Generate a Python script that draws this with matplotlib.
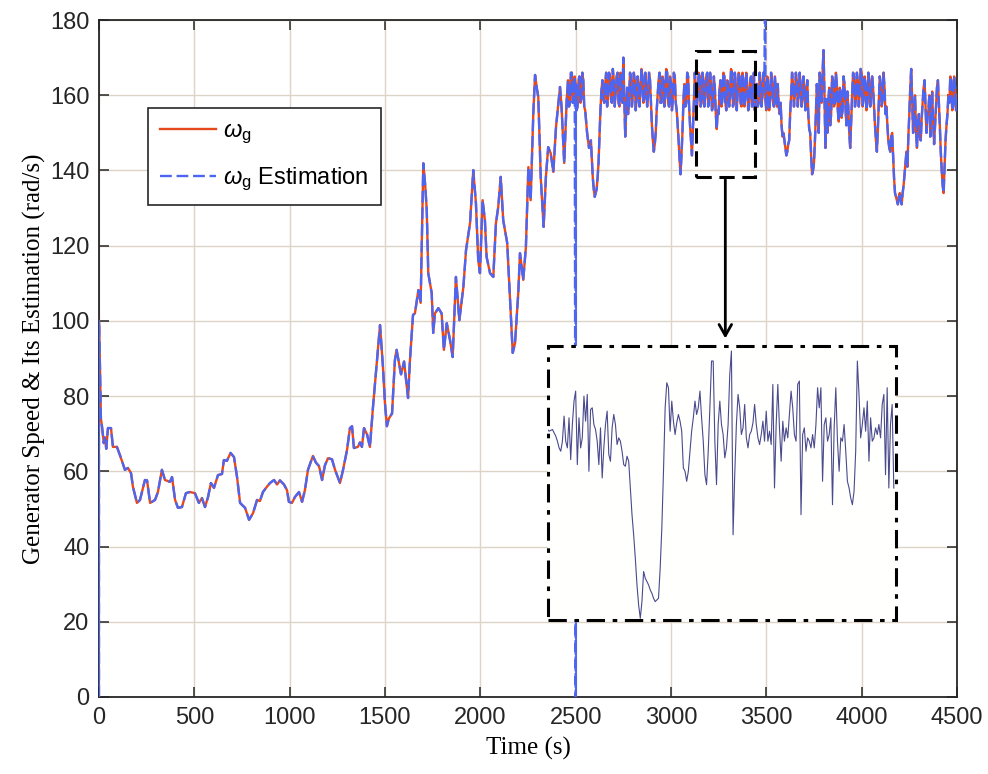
import numpy as np
import matplotlib.pyplot as plt
from matplotlib.patches import Rectangle
from matplotlib.lines import Line2D

plt.rcParams['mathtext.fontset'] = 'custom'
plt.rcParams['mathtext.rm'] = 'Liberation Sans'
plt.rcParams['mathtext.it'] = 'Liberation Sans:italic'

# generator speed, slow part (start-up and ramp), irregular sample times
t_low = [0, 5, 10, 16, 25, 31, 38, 47, 63, 73, 94, 110, 136, 152, 168, 178, 199, 215,
         241, 252, 268, 294, 309, 330, 346, 372, 383, 399, 414, 435, 456, 477, 503, 524,
         540, 556, 572, 587, 603, 624, 645, 655, 671, 690, 708, 724, 740, 766, 787, 808,
         829, 844, 860, 876, 897, 918, 934, 949, 970, 986, 996, 1012, 1028, 1049, 1065,
         1080, 1096, 1122, 1138, 1154, 1170, 1185, 1201, 1222, 1238, 1264, 1280, 1301,
         1316, 1327, 1337, 1358, 1369, 1379, 1390, 1406, 1421, 1437, 1458, 1474, 1489,
         1500, 1510, 1520, 1537, 1552, 1561, 1584, 1600, 1621, 1631, 1647, 1657, 1675,
         1687, 1701, 1711, 1719, 1727, 1745, 1753, 1762, 1780, 1797, 1809, 1824, 1841,
         1855, 1872, 1890, 1911, 1925, 1946, 1963, 1977, 1989, 1998, 2012, 2024, 2033,
         2051, 2068, 2082, 2094, 2107, 2120, 2141, 2156, 2170, 2182, 2199, 2208, 2225,
         2239, 2252, 2264, 2278, 2287, 2296, 2304, 2317, 2332, 2344, 2356, 2369, 2383,
         2397, 2418, 2426, 2440, 2453]
w_low = [100, 88, 74, 71.8, 67.5, 69, 66, 71.5, 71.5, 66.5, 66.5, 64.3, 60.4, 60.9, 59.5,
         55.9, 51.6, 52.4, 57.7, 57.6, 51.6, 52.4, 54.5, 60.4, 57.7, 57.2, 58.5, 52.4, 50.3,
         50.5, 54.2, 54.5, 54.2, 51.6, 52.9, 50.5, 53.2, 56.9, 55.6, 59.0, 59.3, 63.0, 62.8,
         64.9, 63.8, 58.5, 51.6, 50.3, 47.1, 48.9, 52.4, 52.1, 54.5, 55.6, 56.9, 57.7, 56.5,
         57.6, 56.5, 55.0, 51.9, 51.6, 53.2, 54.5, 51.9, 55.0, 60.4, 64.1, 62.3, 61.4, 57.7,
         61.6, 63.5, 63.2, 60.4, 56.9, 60.4, 65.7, 71.5, 72.0, 66.2, 66.5, 67.7, 66.5, 71.5,
         69.8, 66.5, 77.1, 89.6, 98.9, 88.0, 78, 72, 74, 75.4, 89.6, 92.3, 85.8, 89.2, 79.5,
         89.6, 101.6, 102, 108.2, 104.8, 141.9, 136, 129.5, 112.7, 107.4, 96.8, 102, 103.4,
         102, 92.3, 99.4, 94.9, 90.4, 111.7, 100.2, 109, 118.8, 126, 140.1, 131.3, 116.2,
         112.7, 132.1, 126.8, 117, 112.7, 111.7, 126, 130.3, 138.3, 126.8, 120.7, 105.6,
         91.5, 94.1, 107.4, 118, 110.9, 119.6, 140.9, 132.1, 155.3, 165.4, 162, 159.5, 138,
         125, 138.3, 146.2, 144.6, 139.6, 151.6, 162.2, 156.9, 142, 158.7]

# rated-speed part: samples on the 10 s marks ...
w_high_10 = [164, 158, 166, 160, 163, 157, 165, 159, 164, 156,   # 2460-2550
             150, 146, 148, 138, 133, 135, 142, 156, 164, 158,   # 2560-2650
             166, 160, 165, 158, 164, 161, 166, 157, 163, 170,   # 2660-2750
             149, 162, 158, 165, 160, 164, 159, 163, 161, 165,   # 2760-2850
             159, 163, 160, 164, 152, 145, 150, 160, 166, 158,   # 2860-2950
             164, 160, 166, 157, 163, 159, 165, 156, 148, 139,   # 2960-3050
             150, 163, 158, 165, 152, 144, 158, 163, 160, 165,   # 3060-3150
             158, 164, 160, 166, 159, 163, 157, 162, 151, 155,   # 3160-3250
             164, 159, 165, 156, 163, 160, 166, 158, 163, 161,   # 3260-3350
             165, 157, 164, 160, 162, 158, 165, 160, 156, 163,   # 3360-3450
             158, 164, 160, 165, 156, 162, 159, 164, 157, 161,   # 3460-3550
             163, 155, 152, 150, 146, 145, 148, 160, 163, 160,   # 3560-3650
             164, 160, 163, 159, 162, 160, 155, 150, 139, 142,   # 3660-3750
             155, 160, 166, 158, 172, 146, 150, 162, 155, 164,   # 3760-3850
             158, 163, 153, 161, 156, 163, 152, 157, 146, 160,   # 3860-3950
             165, 159, 164, 160, 166, 159, 163, 158, 164, 160,   # 3960-4050
             162, 152, 145, 158, 163, 159, 162, 157, 148, 145,   # 4060-4150
             150, 138, 133, 131, 134, 131, 136, 142, 141, 155,   # 4160-4250
             167, 150, 160, 146, 155, 148, 158, 164, 150, 156,   # 4260-4350
             149, 161, 147, 157, 164, 152, 140, 134, 148, 155,   # 4360-4450
             158, 164, 157, 162, 160]                            # 4460-4500
# ... and the samples halfway between them (2465, 2475, ...)
w_high_5 = [157, 166, 158, 165, 156, 164, 158, 166, 157, 153,   # 2465-2555
            148, 147, 143, 135, 134, 138, 149, 161, 159, 163,   # 2565-2655
            157, 166, 159, 167, 157, 165, 158, 166, 158, 160,   # 2665-2755
            156, 155, 166, 157, 166, 156, 165, 157, 167, 158,   # 2765-2855
            166, 157, 166, 158, 148, 147, 156, 164, 158, 165,   # 2865-2955
            157, 167, 158, 165, 156, 166, 158, 152, 143, 144,   # 2965-3055
            158, 157, 166, 157, 148, 151, 166, 156, 166, 157,   # 3065-3155
            166, 157, 165, 157, 166, 156, 165, 155, 156, 162,   # 3165-3255
            157, 166, 158, 164, 157, 167, 157, 166, 156, 166,   # 3265-3355
            158, 166, 157, 166, 156, 164, 157, 166, 162, 157,   # 3365-3455
            166, 157, 166, 159, 165, 156, 166, 158, 165, 157,   # 3465-3555
            157, 158, 149, 148, 144, 147, 155, 166, 157, 166,   # 3565-3655
            157, 166, 157, 165, 156, 164, 151, 144, 140, 148,   # 3665-3755
            163, 150, 160, 166, 160, 159, 158, 152, 165, 157,   # 3765-3855
            166, 156, 162, 154, 165, 157, 161, 150, 153, 166,   # 3865-3955
            157, 166, 157, 167, 157, 165, 156, 166, 157, 165,   # 3965-4055
            157, 148, 151, 165, 157, 166, 155, 152, 146, 149,   # 4065-4155
            144, 134, 132, 133, 132, 134, 139, 145, 149, 162,   # 4165-4255
            158, 156, 151, 152, 149, 154, 162, 157, 155, 160,   # 4265-4355
            157, 153, 152, 162, 158, 145, 136, 141, 152, 160,   # 4365-4455
            165, 156, 165, 156]                                 # 4465-4495

t_high = np.arange(2460, 4501, 5)
w_high = np.empty(len(t_high))
w_high[0::2] = w_high_10
w_high[1::2] = w_high_5

t = np.concatenate([t_low, t_high]).astype(float)
w = np.concatenate([w_low, w_high]).astype(float)

# observer glitches: start-up from zero, dropout at 2500 s, overshoot at 3495 s
glitch_t = [0, 2500, 3495]
glitch_w = [0.0, 0.0, 200.0]
idx = np.searchsorted(t, glitch_t, side='left')
t_est = np.insert(t, idx, glitch_t)
w_est = np.insert(w, idx, glitch_w)

# detail trace shown in the magnified panel
zoom_w = [159.6, 159.4, 159.2, 159.3, 159.4, 159.0, 158.6, 158.0, 157.2, 156.8,
          158.0, 161.0, 158.0, 157.2, 160.8, 155.8, 160.0, 162.8, 164.0, 155.2,
          160.8, 157.2, 158.4, 163.4, 160.4, 163.6, 154.4, 161.8, 162.0, 160.0,
          159.4, 158.0, 155.2, 159.6, 153.6, 157.2, 160.0, 161.6, 156.4, 155.6,
          159.6, 161.2, 160.0, 157.6, 158.4, 158.0, 156.8, 155.2, 155.0, 156.2,
          155.6, 152.4, 149.2, 146.8, 144.0, 140.8, 138.4, 136.8, 138.8, 142.4,
          141.6, 141.2, 140.8, 140.2, 139.8, 139.2, 138.8, 139.0, 139.2, 142.8,
          147.6, 154.4, 162.0, 165.0, 164.4, 159.2, 162.8, 160.4, 158.8, 160.2,
          161.2, 160.4, 159.2, 154.8, 154.4, 153.2, 154.4, 156.8, 159.2, 160.8,
          162.8, 161.2, 162.0, 164.0, 160.8, 158.0, 154.0, 152.8, 156.8, 162.0,
          167.6, 167.6, 158.0, 152.8, 160.0, 162.8, 160.0, 158.8, 156.0, 157.2,
          160.0, 166.0, 168.8, 146.8, 154.0, 160.0, 163.6, 162.0, 158.8, 159.6,
          162.4, 158.4, 157.2, 158.8, 159.2, 160.2, 162.4, 160.0, 158.4, 157.6,
          158.8, 160.4, 158.0, 161.6, 158.0, 159.2, 157.6, 164.8, 152.4, 160.0,
          164.8, 159.6, 155.6, 160.4, 158.0, 159.6, 158.4, 161.2, 164.0, 162.0,
          158.8, 158.0, 164.8, 165.2, 149.2, 158.8, 159.6, 156.8, 158.4, 158.0,
          157.2, 158.8, 157.2, 160.0, 164.4, 162.0, 164.4, 153.2, 160.0, 160.8,
          158.0, 158.8, 160.8, 150.4, 159.6, 164.4, 158.0, 154.4, 158.4, 158.0,
          160.0, 156.8, 153.2, 152.4, 151.2, 150.4, 152.0, 156.8, 167.6, 163.6,
          158.4, 160.0, 162.0, 159.2, 162.8, 155.6, 160.8, 158.0, 158.4, 159.6,
          158.8, 160.0, 158.4, 162.4, 163.6, 154.0, 164.4, 152.4, 160.0, 162.4,
          152.4]
zoom_t = 3150 + 1.5 * np.arange(len(zoom_w))

xticks = [0, 500, 1000, 1500, 2000, 2500, 3000, 3500, 4000, 4500]
yticks = [0, 20, 40, 60, 80, 100, 120, 140, 160, 180]

red = '#e8491c'
blue = '#4d66f2'
axis_col = '#262626'
dash = (0, (5.0, 2.0))

fig = plt.figure(figsize=(9.88, 7.74), dpi=100)
ax = fig.add_axes([0.1002, 0.0995, 0.8684, 0.8746])

ax.plot(t, w, color=red, lw=1.7, zorder=3)
ax.plot(t_est, w_est, color=blue, lw=1.7, ls=dash, zorder=4)
# dropouts of the estimate drawn as a solid trace
for gt, gw, i in zip(glitch_t, glitch_w, idx):
    if gw == 0:
        ax.plot([gt, gt], [gw, w[i]], color=blue, lw=1.3, zorder=4)

ax.set_xlim(0, 4500)
ax.set_ylim(0, 180)
ax.set_xticks(xticks)
ax.set_yticks(yticks)
ax.grid(True, color='#ddd3c6', lw=1.0)
ax.set_axisbelow(True)
ax.tick_params(direction='in', length=7, width=1.1, colors=axis_col,
               top=True, right=True, labelsize=17, pad=7)
for lab in ax.get_xticklabels() + ax.get_yticklabels():
    lab.set_family('Liberation Sans')
for sp in ax.spines.values():
    sp.set_color(axis_col)
    sp.set_linewidth(1.3)

ax.set_xlabel('Time (s)', family='Liberation Serif', fontsize=18, labelpad=6)
ax.set_ylabel('Generator Speed & Its Estimation (rad/s)', family='Liberation Serif',
              fontsize=18, labelpad=3)

# legend
handles = [Line2D([], [], color=red, lw=1.7),
           Line2D([], [], color=blue, lw=1.7, ls=dash)]
leg = ax.legend(handles, [r'$\omega_{\mathrm{g}}$', r'$\omega_{\mathrm{g}}$ Estimation'],
                loc='upper left', bbox_to_anchor=(0.057, 0.870), borderaxespad=0,
                fontsize=17, handlelength=2.4, handletextpad=0.3, labelspacing=0.85,
                borderpad=0.5, fancybox=False, framealpha=1)
leg.get_frame().set_edgecolor(axis_col)
leg.get_frame().set_linewidth(1.2)
for txt in leg.get_texts():
    txt.set_family('Liberation Sans')

# selection box and pointer to the magnified panel
ax.add_patch(Rectangle((3133, 138.3), 306, 33.4, fill=False, ec='black', lw=2.2,
                       ls=(0, (5, 2.5)), zorder=6))
ax.annotate('', xy=(3285, 94.6), xytext=(3285, 138.3),
            arrowprops=dict(arrowstyle='->,head_length=0.8,head_width=0.45',
                            color='black', lw=2.0), zorder=6)

# magnified panel
axz = fig.add_axes([0.5547, 0.199, 0.3522, 0.354])
axz.set_facecolor('#fffffd')
axz.plot(zoom_t, zoom_w, color='#4a4a8e', lw=0.8)
axz.set_xlim(3152, 3467)
axz.set_ylim(136.6, 169.4)
axz.set_xticks([])
axz.set_yticks([])
for sp in axz.spines.values():
    sp.set_visible(False)
axz.add_patch(Rectangle((0, 0), 1, 1, transform=axz.transAxes, fill=False, ec='black',
                        lw=2.2, ls=(0, (6, 2.5, 1.5, 2.5)), clip_on=False))

fig.savefig('out.png', dpi=100)
